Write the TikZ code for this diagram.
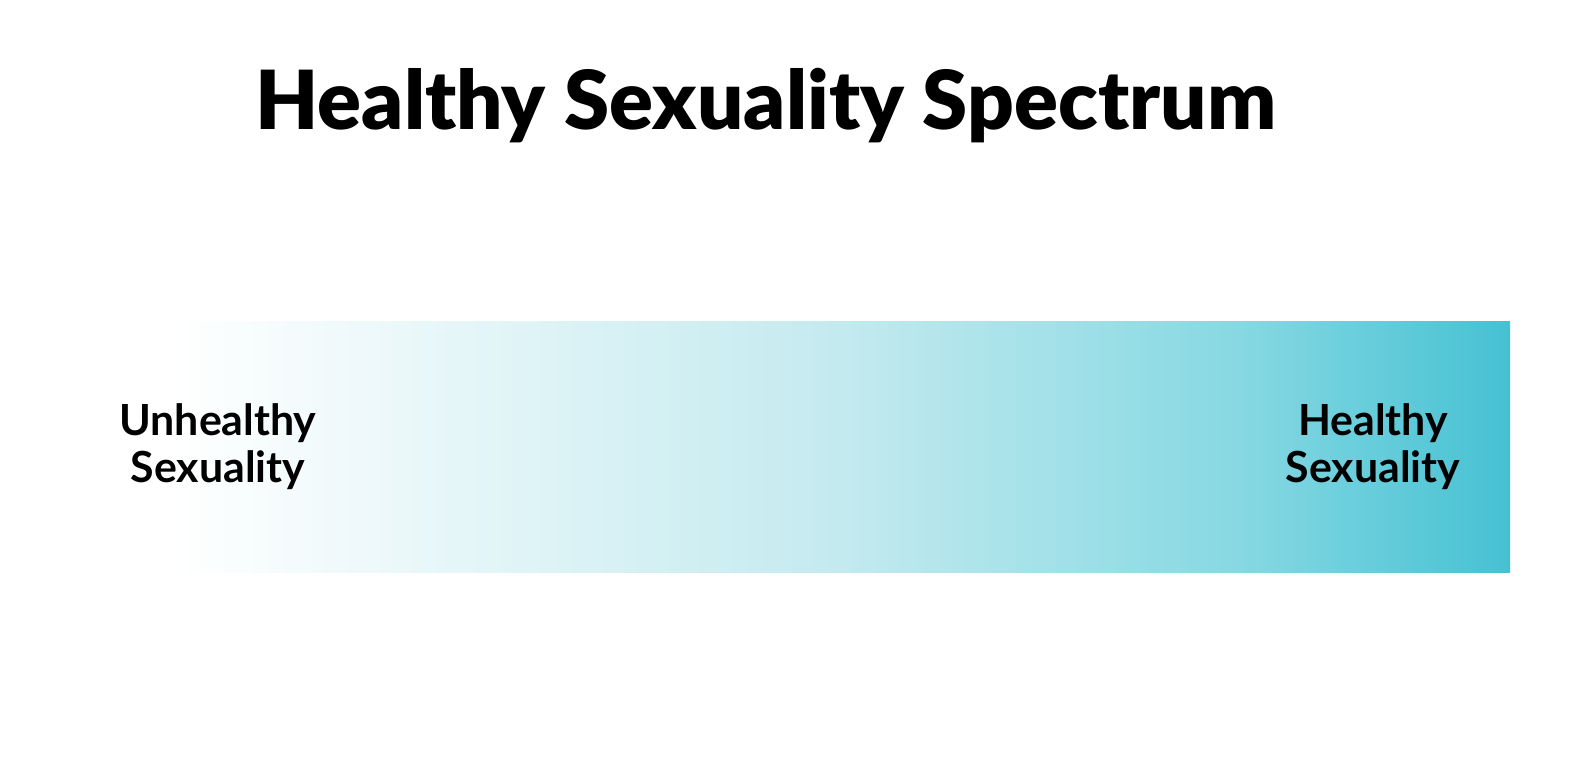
\documentclass[tikz,border=0pt]{standalone}
\usepackage{fontspec}
\setmainfont{Lato}
\IfFontExistsTF{Lato Black}{\newfontfamily\titelfont{Lato Black}}{\newfontfamily\titelfont{Lato}[UprightFont=* Bold]}
\newfontfamily\cimkefont{Lato}[UprightFont=* Bold]
\usetikzlibrary{positioning}
\definecolor{sk0}{HTML}{FFFFFF}
\definecolor{sk1}{HTML}{C3EAEF}
\definecolor{sk2}{HTML}{86D8E2}
\definecolor{sk3}{HTML}{45C1D3}
\pgfdeclarehorizontalshading{skala}{100bp}{color(0bp)=(sk0); color(25bp)=(sk0);
  color(50bp)=(sk1); color(65bp)=(sk2); color(75bp)=(sk3); color(100bp)=(sk3)}
\tikzset{
  cim/.style={font=\titelfont\fontsize{23.2}{28}\selectfont,inner sep=0pt},
  cimke/.style={font=\cimkefont\fontsize{12.2}{13.4}\selectfont,align=center,inner sep=0pt},
  savo/.style={shading=skala},
}
\begin{document}
\begin{tikzpicture}
  \fill[white] (0,0) rectangle (15.96,7.78);
  \useasboundingbox (0,0) rectangle (15.96,7.78);
  \shade[savo] (1.73,2.06) rectangle (15.10,4.57);
  \node[cim,anchor=base] (cim) at (7.66,6.49) {Healthy Sexuality Spectrum};
  \node[cimke] (bal) at (2.18,3.31) {Unhealthy\\Sexuality};
  \node[cimke] (jobb) at (13.73,3.31) {Healthy\\Sexuality};
\end{tikzpicture}
\end{document}
